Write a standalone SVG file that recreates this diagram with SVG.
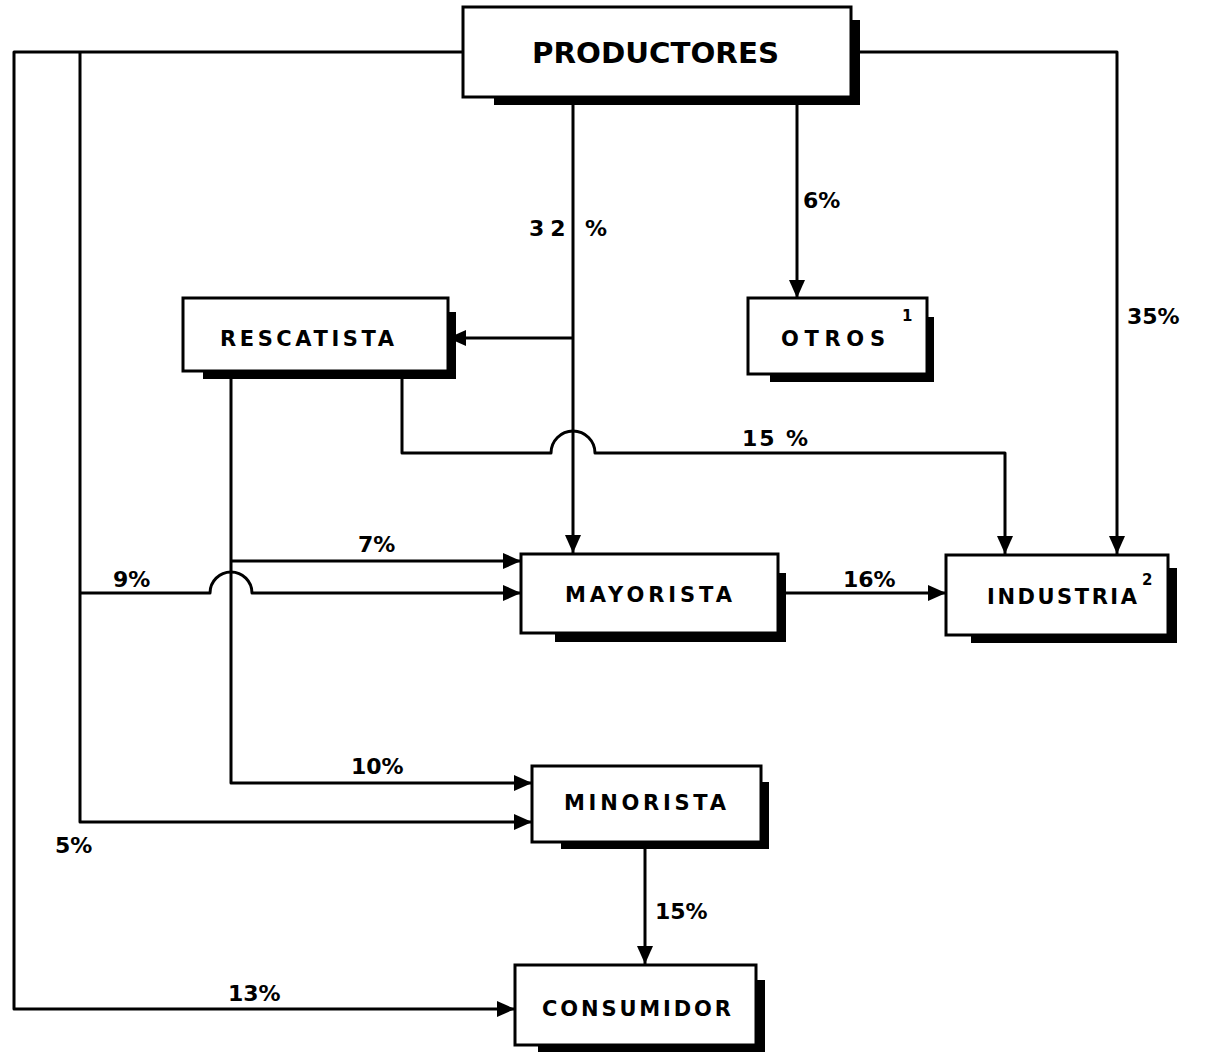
<svg xmlns="http://www.w3.org/2000/svg" width="1209" height="1053" viewBox="0 0 1209 1053">
<style>
.box{fill:#fff;stroke:#000;stroke-width:3}
.sh{fill:#000}
.lbl{font-family:"DejaVu Sans","Liberation Sans",sans-serif;font-weight:bold;fill:#000;font-size:21px}
.pct{font-family:"DejaVu Sans","Liberation Sans",sans-serif;font-weight:bold;fill:#000;font-size:22px}
.sup{font-family:"DejaVu Sans","Liberation Sans",sans-serif;font-weight:bold;fill:#000;font-size:15px}
.ln{fill:none;stroke:#000;stroke-width:3;stroke-linejoin:round}
</style>
<defs>
<marker id="ah" markerUnits="userSpaceOnUse" markerWidth="20" markerHeight="18" refX="18" refY="8" orient="auto">
<path d="M0,0 L18,8 L0,16 z" fill="#000"/>
</marker>
</defs>
<rect width="1209" height="1053" fill="#fff"/>
<g id="connectors">
<path class="ln" d="M573,97 V553" marker-end="url(#ah)"/>
<path class="ln" d="M573,338 H448" marker-end="url(#ah)"/>
<path class="ln" d="M797,97 V298" marker-end="url(#ah)"/>
<path class="ln" d="M851,52 H1117 V554" marker-end="url(#ah)"/>
<path class="ln" d="M463,52 H14 V1009 H515" marker-end="url(#ah)"/>
<path class="ln" d="M80,52 V822 H532" marker-end="url(#ah)"/>
<path class="ln" d="M80,593 H210 A21,21 0 0 1 252,593 H521" marker-end="url(#ah)"/>
<path class="ln" d="M231,371 V783 H532" marker-end="url(#ah)"/>
<path class="ln" d="M231,561 H521" marker-end="url(#ah)"/>
<path class="ln" d="M402,371 V453 H551 A22,22 0 0 1 595,453 H1005 V554" marker-end="url(#ah)"/>
<path class="ln" d="M786,593 H946" marker-end="url(#ah)"/>
<path class="ln" d="M645,849 V964" marker-end="url(#ah)"/>
<text class="pct" x="529" y="236" textLength="78">32 %</text>
<text class="pct" x="803" y="208">6%</text>
<text class="pct" x="1127" y="324">35%</text>
<text class="pct" x="742" y="446" textLength="66">15 %</text>
<text class="pct" x="358" y="552">7%</text>
<text class="pct" x="113" y="587">9%</text>
<text class="pct" x="843" y="587">16%</text>
<text class="pct" x="351" y="774">10%</text>
<text class="pct" x="55" y="853">5%</text>
<text class="pct" x="655" y="919">15%</text>
<text class="pct" x="228" y="1001">13%</text>
</g>
<g id="productores">
<rect class="sh" x="494" y="20" width="366" height="85"/>
<rect class="box" x="463" y="7" width="388" height="90"/>
<text class="lbl" style="font-size:29px" x="532" y="63" textLength="247" lengthAdjust="spacingAndGlyphs">PRODUCTORES</text>
</g>
<g id="rescatista">
<rect class="sh" x="203" y="312" width="253" height="67"/>
<rect class="box" x="183" y="298" width="265" height="73"/>
<text class="lbl" x="220" y="346" textLength="174">RESCATISTA</text>
</g>
<g id="otros">
<rect class="sh" x="770" y="317" width="164" height="65"/>
<rect class="box" x="748" y="298" width="179" height="76"/>
<text class="lbl" x="781" y="346" textLength="104">OTROS</text>
<text class="sup" x="902" y="321">1</text>
</g>
<g id="mayorista">
<rect class="sh" x="555" y="573" width="231" height="69"/>
<rect class="box" x="521" y="554" width="257" height="79"/>
<text class="lbl" x="565" y="602" textLength="167">MAYORISTA</text>
</g>
<g id="industria">
<rect class="sh" x="971" y="568" width="206" height="75"/>
<rect class="box" x="946" y="555" width="222" height="80"/>
<text class="lbl" x="987" y="604" textLength="150">INDUSTRIA</text>
<text class="sup" x="1142" y="585">2</text>
</g>
<g id="minorista">
<rect class="sh" x="561" y="782" width="208" height="67"/>
<rect class="box" x="532" y="766" width="229" height="76"/>
<text class="lbl" x="564" y="810" textLength="162">MINORISTA</text>
</g>
<g id="consumidor">
<rect class="sh" x="538" y="980" width="227" height="72"/>
<rect class="box" x="515" y="965" width="241" height="80"/>
<text class="lbl" x="542" y="1016" textLength="189">CONSUMIDOR</text>
</g>
</svg>
